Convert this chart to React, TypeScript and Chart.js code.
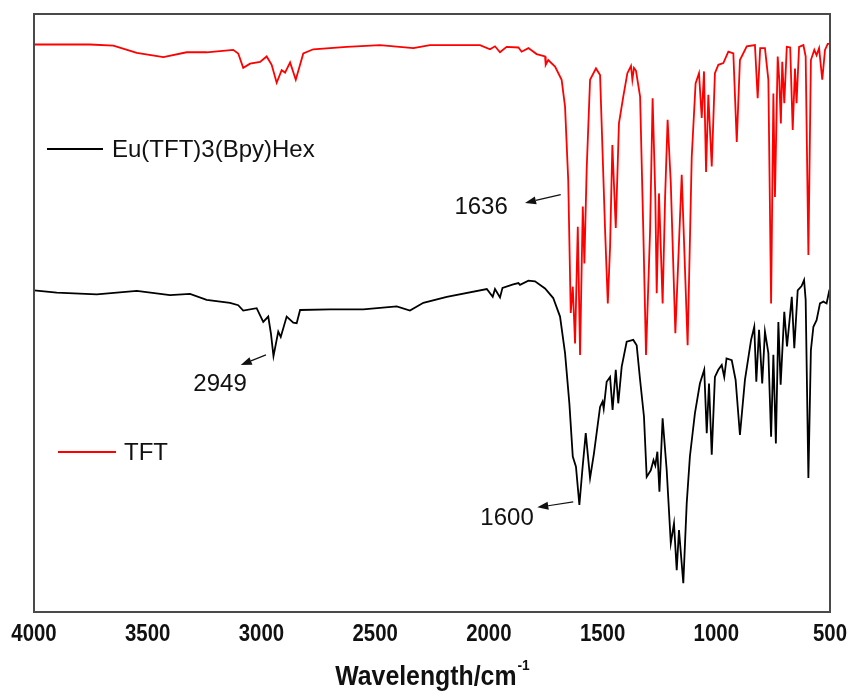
import React, { useEffect, useRef } from "react";
import { Chart, registerables } from "chart.js";

Chart.register(...registerables);

// ---------- data ----------
const tftWavenumbers = [
  4000, 3754, 3651, 3548, 3431, 3329, 3241, 3124, 3102, 3080, 3050, 3006, 2977, 2955, 2933, 2911, 2896, 2874, 2849, 2816,
  2772, 2625, 2479, 2332, 2259, 2039, 1995, 1973, 1951, 1922, 1870, 1856, 1826, 1790, 1753, 1750, 1739, 1709, 1680, 1665,
  1651, 1640, 1631, 1621, 1609, 1599, 1587, 1580, 1570, 1555, 1529, 1511, 1489, 1477, 1467, 1457, 1442, 1428, 1409, 1391,
  1375, 1369, 1362, 1353, 1335, 1321, 1309, 1291, 1280, 1268, 1262, 1252, 1236, 1225, 1214, 1200, 1180, 1152, 1126, 1108,
  1091, 1076, 1064, 1054, 1045, 1035, 1020, 1006, 991, 969, 947, 925, 910, 896, 866, 830, 818, 807, 786, 771,
  759, 749, 742, 730, 723, 716, 710, 701, 690, 675, 664, 654, 647, 636, 617, 607, 595, 584, 569, 559,
  548, 534, 522, 510, 500,
];
const tftValues = [
  94.9, 94.9, 94.7, 93.5, 92.8, 93.6, 93.6, 94.0, 93.4, 91.0, 91.7, 92.0, 92.9, 91.5, 88.5, 90.6, 90.2, 91.9, 89.0, 93.4,
  94.1, 94.5, 94.8, 94.3, 94.8, 94.8, 94.1, 94.6, 93.6, 94.5, 94.4, 93.7, 94.3, 93.3, 92.9, 91.5, 92.3, 91.2, 89.0, 84.5,
  72.2, 50.0, 54.4, 44.9, 64.4, 43.0, 67.8, 58.3, 73.9, 89.0, 90.9, 89.8, 63.9, 51.6, 61.1, 78.1, 64.2, 81.7, 86.2, 90.1,
  91.3, 89.0, 91.0, 90.5, 86.2, 63.9, 43.0, 63.9, 85.9, 69.4, 53.3, 70.0, 51.6, 69.4, 82.3, 71.7, 46.6, 73.1, 44.6, 76.1,
  88.4, 90.1, 82.6, 90.4, 73.6, 86.5, 74.5, 90.1, 91.5, 91.8, 93.7, 93.4, 78.6, 92.3, 94.6, 94.8, 85.9, 94.3, 94.3, 89.0,
  51.6, 86.7, 69.4, 92.9, 89.0, 81.7, 92.0, 85.1, 94.5, 94.4, 80.6, 90.9, 85.1, 94.5, 94.8, 92.9, 59.7, 92.3, 94.0, 93.1,
  94.3, 89.0, 94.0, 95.0, 95.0,
];

const complexWavenumbers = [
  4000, 3900, 3724, 3548, 3402, 3314, 3241, 3138, 3102, 3080, 3021, 2992, 2970, 2958, 2947, 2926, 2915, 2889, 2860, 2845,
  2830, 2698, 2552, 2405, 2347, 2288, 2185, 2009, 1983, 1973, 1951, 1940, 1893, 1870, 1863, 1826, 1797, 1753, 1717, 1687,
  1665, 1646, 1631, 1617, 1602, 1589, 1574, 1555, 1538, 1511, 1500, 1495, 1482, 1467, 1456, 1442, 1431, 1416, 1394, 1365,
  1350, 1335, 1318, 1306, 1288, 1276, 1268, 1259, 1250, 1236, 1218, 1200, 1186, 1174, 1164, 1145, 1130, 1116, 1094, 1072,
  1053, 1042, 1032, 1020, 1006, 991, 976, 965, 955, 932, 915, 896, 874, 847, 833, 824, 812, 798, 786, 771,
  759, 749, 738, 727, 717, 701, 689, 668, 657, 642, 625, 614, 607, 595, 584, 573, 559, 544, 529, 515,
  503, 500,
];
const complexValues = [
  53.8, 53.4, 53.1, 53.7, 53.0, 53.2, 52.2, 51.7, 51.3, 50.4, 50.8, 48.5, 49.4, 46.5, 42.8, 46.9, 46.0, 49.4, 48.4, 48.3,
  50.5, 50.6, 50.6, 51.1, 50.4, 51.7, 52.7, 54.0, 52.7, 54.0, 52.6, 54.2, 54.8, 55.0, 54.7, 55.4, 55.3, 54.1, 52.5, 49.4,
  43.3, 34.9, 26.0, 24.3, 17.9, 23.7, 29.9, 22.4, 26.5, 34.3, 35.2, 34.0, 38.5, 39.3, 33.8, 40.5, 34.9, 41.0, 45.2, 45.5,
  44.6, 38.8, 32.7, 22.6, 23.7, 25.4, 24.5, 26.8, 20.1, 32.4, 23.7, 11.5, 14.8, 7.0, 13.7, 4.8, 18.2, 26.0, 33.2, 38.2,
  40.5, 29.9, 38.2, 26.3, 39.3, 40.5, 41.3, 39.3, 42.4, 42.1, 38.8, 29.6, 38.8, 45.5, 47.7, 38.5, 47.2, 38.2, 46.9, 43.3,
  29.3, 43.0, 28.2, 48.5, 38.0, 50.2, 44.4, 52.7, 44.1, 53.8, 54.5, 55.5, 52.2, 22.4, 43.8, 47.7, 48.8, 51.6, 51.9, 51.6,
  53.8, 54.0,
];

const xTicks = [4000, 3500, 3000, 2500, 2000, 1500, 1000, 500];
const seriesNames = ["Eu(TFT)3(Bpy)Hex", "TFT"];

// peak annotations: label, label position (wavenumber, value), arrow tail, arrow head
const annotationLabels = ["1636", "2949", "1600"];
const annotationTextAt = [
  [2034, 67.7],
  [3182, 38.0],
  [1920, 15.7],
];
const annotationArrowFrom = [
  [1684, 69.8],
  [2980, 43.0],
  [1629, 18.4],
];
const annotationArrowTo = [
  [1841, 68.4],
  [3091, 41.3],
  [1787, 17.5],
];

const textFont = "'Liberation Sans', Arial, sans-serif";

const overlayPlugin = {
  id: "overlay",
  afterDraw(chart: any) {
    const { ctx, chartArea } = chart;
    const xs = chart.scales.x;
    const ys = chart.scales.y;
    ctx.save();
    // frame
    ctx.strokeStyle = "#4a4a4a";
    ctx.lineWidth = 2;
    ctx.strokeRect(chartArea.left, chartArea.top, chartArea.right - chartArea.left, chartArea.bottom - chartArea.top);

    // tick labels (condensed bold)
    ctx.fillStyle = "#111";
    ctx.font = `bold 24px ${textFont}`;
    ctx.textAlign = "center";
    ctx.textBaseline = "middle";
    xs.ticks.forEach((t: any) => {
      const px = xs.getPixelForValue(t.value);
      ctx.save();
      ctx.translate(px, chartArea.bottom + 22);
      ctx.scale(0.85, 1);
      ctx.fillText(String(t.value), 0, 0);
      ctx.restore();
    });

    // legend entries
    const legendItems = [
      { color: "#000000", x1: 47, x2: 103, y: 149, tx: 112 },
      { color: "#ff0000", x1: 58, x2: 116, y: 452, tx: 124 },
    ];
    ctx.font = `24px ${textFont}`;
    ctx.textBaseline = "middle";
    ctx.textAlign = "left";
    legendItems.forEach((it, i) => {
      ctx.strokeStyle = it.color;
      ctx.lineWidth = 2;
      ctx.beginPath();
      ctx.moveTo(it.x1, it.y);
      ctx.lineTo(it.x2, it.y);
      ctx.stroke();
      ctx.fillStyle = "#111";
      ctx.fillText(seriesNames[i], it.tx, it.y + 1);
    });

    // annotations
    ctx.font = `24px ${textFont}`;
    ctx.textAlign = "center";
    ctx.textBaseline = "middle";
    annotationLabels.forEach((label, i) => {
      const tx = xs.getPixelForValue(annotationTextAt[i][0]);
      const ty = ys.getPixelForValue(annotationTextAt[i][1]);
      ctx.fillStyle = "#111";
      ctx.fillText(label, tx, ty);
      const fx = xs.getPixelForValue(annotationArrowFrom[i][0]);
      const fy = ys.getPixelForValue(annotationArrowFrom[i][1]);
      const hx = xs.getPixelForValue(annotationArrowTo[i][0]);
      const hy = ys.getPixelForValue(annotationArrowTo[i][1]);
      const ang = Math.atan2(hy - fy, hx - fx);
      const hl = 11;
      const hw = 4;
      const bx = hx - hl * Math.cos(ang);
      const by = hy - hl * Math.sin(ang);
      ctx.strokeStyle = "#111";
      ctx.lineWidth = 1.2;
      ctx.beginPath();
      ctx.moveTo(fx, fy);
      ctx.lineTo(bx, by);
      ctx.stroke();
      ctx.fillStyle = "#111";
      ctx.beginPath();
      ctx.moveTo(hx, hy);
      ctx.lineTo(bx + hw * Math.sin(ang), by - hw * Math.cos(ang));
      ctx.lineTo(bx - hw * Math.sin(ang), by + hw * Math.cos(ang));
      ctx.closePath();
      ctx.fill();
    });

    // axis title with superscript (condensed bold)
    const cx = (chartArea.left + chartArea.right) / 2;
    const base = 685;
    const sx = 0.92;
    const mainText = "Wavelength/cm";
    const supText = "-1";
    ctx.fillStyle = "#111";
    ctx.textAlign = "left";
    ctx.textBaseline = "alphabetic";
    ctx.font = `bold 27px ${textFont}`;
    const w1 = ctx.measureText(mainText).width * sx;
    ctx.font = `bold 15px ${textFont}`;
    const w2 = ctx.measureText(supText).width * sx;
    const startX = cx - (w1 + w2) / 2;
    ctx.save();
    ctx.translate(startX, base);
    ctx.scale(sx, 1);
    ctx.font = `bold 27px ${textFont}`;
    ctx.fillText(mainText, 0, 0);
    ctx.font = `bold 15px ${textFont}`;
    ctx.fillText(supText, w1 / sx + 1, -15);
    ctx.restore();
    ctx.restore();
  },
};

export default function App() {
  const canvasRef = useRef<HTMLCanvasElement | null>(null);

  useEffect(() => {
    if (!canvasRef.current) return;
    const chart = new Chart(canvasRef.current, {
      type: "line",
      data: {
        datasets: [
          {
            label: seriesNames[1],
            data: tftWavenumbers.map((x, i) => ({ x, y: tftValues[i] })),
            borderColor: "#ff0000",
            borderWidth: 1.8,
            pointRadius: 0,
            tension: 0,
            fill: false,
          },
          {
            label: seriesNames[0],
            data: complexWavenumbers.map((x, i) => ({ x, y: complexValues[i] })),
            borderColor: "#000000",
            borderWidth: 1.8,
            pointRadius: 0,
            tension: 0,
            fill: false,
          },
        ],
      },
      options: {
        responsive: false,
        animation: false,
        layout: { padding: { left: 34, right: 18, top: 14, bottom: 0 } },
        plugins: {
          legend: { display: false },
          tooltip: { enabled: false },
          title: { display: false },
        },
        scales: {
          x: {
            type: "linear",
            reverse: true,
            min: 500,
            max: 4000,
            grid: { display: false },
            border: { display: false },
            afterFit: (s: any) => {
              s.height = 81;
              s.paddingLeft = 0;
              s.paddingRight = 0;
            },
            afterBuildTicks: (s: any) => {
              s.ticks = xTicks.map((v) => ({ value: v }));
            },
            ticks: { display: false },
          },
          y: {
            display: false,
            min: 0,
            max: 100,
          },
        },
      },
      plugins: [overlayPlugin],
    });
    return () => chart.destroy();
  }, []);

  return (
    <div style={{ position: "fixed", left: 0, top: 0, width: 848, height: 693, background: "#fff" }}>
      <canvas ref={canvasRef} width={848} height={693} />
    </div>
  );
}
